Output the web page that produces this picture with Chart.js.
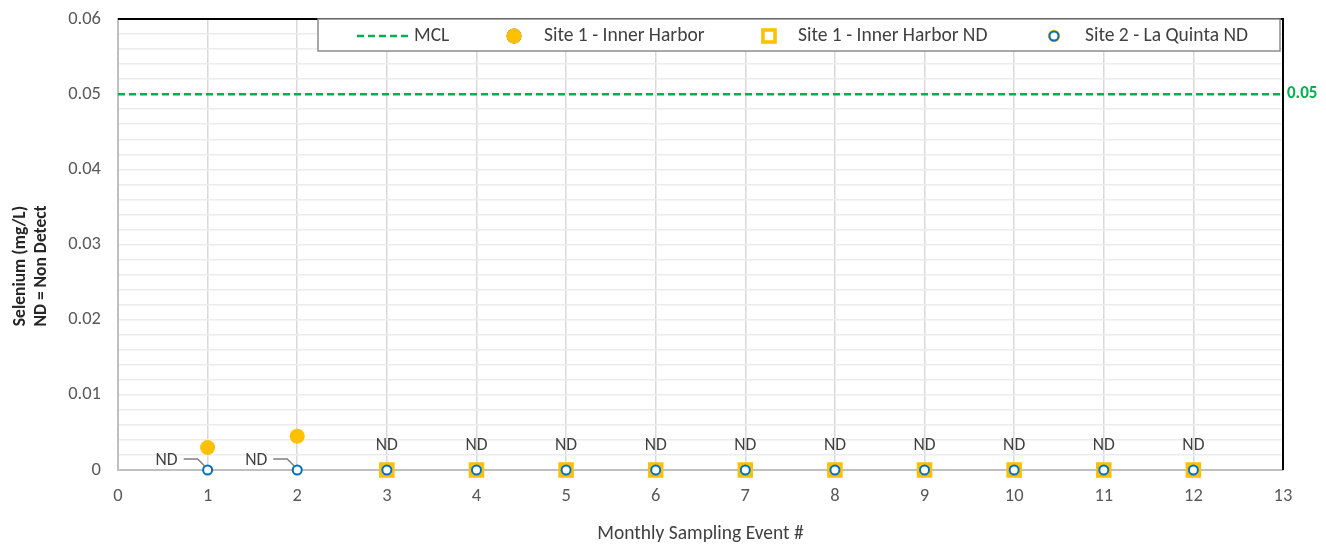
<!DOCTYPE html>
<html>
<head>
<meta charset="utf-8">
<script src="https://cdn.jsdelivr.net/npm/chart.js@4.4.1/dist/chart.umd.min.js"></script>
<style>
  html, body { margin: 0; padding: 0; background: #fff; }
  #wrap { width: 1326px; height: 544px; }
</style>
</head>
<body>
<div id="wrap"><canvas id="chart" width="1326" height="544"></canvas></div>
<script>
"use strict";

// data
var site1Events = [1, 2];
var site1Values = [0.003, 0.0045];
var site1NdEvents = [3, 4, 5, 6, 7, 8, 9, 10, 11, 12];
var site1NdValues = [0, 0, 0, 0, 0, 0, 0, 0, 0, 0];
var site2NdEvents = [1, 2, 3, 4, 5, 6, 7, 8, 9, 10, 11, 12];
var site2NdValues = [0, 0, 0, 0, 0, 0, 0, 0, 0, 0, 0, 0];
var mclEvents = [0, 13];
var mclValue = 0.05;
var yTitle = ["Selenium (mg/L)", "ND = Non Detect"];

var FONT = "Carlito, Lato, 'Open Sans', sans-serif";
var TEXT = "#404040";

function pts(xs, ys) {
    return xs.map(function (x, i) { return { x: x, y: ys[i] }; });
}

// frame, MCL value, ND labels, y title and the boxed legend
var extras = {
    id: "extras",
    afterDraw: function (chart) {
        var ctx = chart.ctx, a = chart.chartArea;
        var xs = chart.scales.x, ys = chart.scales.y;
        ctx.save();

        // black top and right frame
        ctx.strokeStyle = "#000";
        ctx.lineWidth = 2;
        ctx.beginPath();
        ctx.moveTo(a.left, a.top);
        ctx.lineTo(a.right, a.top);
        ctx.lineTo(a.right, a.bottom);
        ctx.stroke();

        // MCL value label
        ctx.fillStyle = "#00B050";
        ctx.font = "bold 17px " + FONT;
        ctx.textAlign = "left";
        ctx.textBaseline = "middle";
        ctx.fillText(String(mclValue), a.right + 4, ys.getPixelForValue(mclValue));

        // ND labels
        ctx.fillStyle = TEXT;
        ctx.strokeStyle = "#7f7f7f";
        ctx.lineWidth = 1.5;
        ctx.font = "17.5px " + FONT;
        site2NdEvents.forEach(function (ev, i) {
            var px = xs.getPixelForValue(ev), py = ys.getPixelForValue(site2NdValues[i]);
            if (site1NdEvents.indexOf(ev) >= 0) {
                ctx.textAlign = "center";
                ctx.fillText("ND", px, py - 24);
            } else {
                ctx.textAlign = "right";
                ctx.fillText("ND", px - 30, py - 9);
                ctx.beginPath();
                ctx.moveTo(px - 24, py - 11);
                ctx.lineTo(px - 10, py - 11);
                ctx.lineTo(px - 3, py - 4);
                ctx.stroke();
            }
        });

        // y axis title, two lines
        ctx.save();
        ctx.translate(21, 266);
        ctx.rotate(-Math.PI / 2);
        ctx.fillStyle = "#262626";
        ctx.font = "bold 17.5px " + FONT;
        ctx.textAlign = "center";
        yTitle.forEach(function (t, k) { ctx.fillText(t, 0, k * 21); });
        ctx.restore();

        // legend box
        var bx = 318, by = 19, bw = 962, bh = 32, cy = by + bh / 2 + 1;
        ctx.fillStyle = "#fff";
        ctx.fillRect(bx, by, bw, bh);
        ctx.strokeStyle = "#8c8c8c";
        ctx.lineWidth = 1.5;
        ctx.strokeRect(bx, by, bw, bh);

        var symX = [357, 514, 769, 1054];
        var textX = [414, 544, 798, 1085];
        ctx.font = "19.5px " + FONT;
        ctx.textAlign = "left";
        chart.data.datasets.forEach(function (ds, k) {
            if (ds.type === "line") {
                ctx.strokeStyle = ds.borderColor;
                ctx.lineWidth = ds.borderWidth;
                ctx.setLineDash(ds.borderDash);
                ctx.beginPath();
                ctx.moveTo(symX[k], cy);
                ctx.lineTo(symX[k] + 52, cy);
                ctx.stroke();
                ctx.setLineDash([]);
            } else {
                Chart.helpers.drawPoint(ctx, {
                    pointStyle: ds.pointStyle,
                    radius: ds.legendRadius,
                    borderWidth: ds.pointBorderWidth,
                    rotation: 0
                }, symX[k], cy);
                ctx.fillStyle = ds.pointBackgroundColor;
                ctx.strokeStyle = ds.pointBorderColor;
                ctx.lineWidth = ds.pointBorderWidth;
                ctx.fill();
                if (ds.pointBorderWidth) ctx.stroke();
            }
            ctx.fillStyle = TEXT;
            ctx.fillText(ds.label, textX[k], cy);
        });

        ctx.restore();
    }
};

new Chart(document.getElementById("chart"), {
    type: "scatter",
    data: {
        datasets: [{
            type: "line",
            label: "MCL",
            data: pts(mclEvents, [mclValue, mclValue]),
            borderColor: "#00B050",
            borderWidth: 2.5,
            borderDash: [7, 4],
            pointRadius: 0,
            order: 4
        }, {
            label: "Site 1 - Inner Harbor",
            data: pts(site1Events, site1Values),
            pointStyle: "circle",
            pointRadius: 7.5,
            legendRadius: 7.5,
            pointBackgroundColor: "#FFC000",
            pointBorderColor: "#FFC000",
            pointBorderWidth: 0,
            clip: false,
            order: 3
        }, {
            label: "Site 1 - Inner Harbor ND",
            data: pts(site1NdEvents, site1NdValues),
            pointStyle: "rect",
            pointRadius: 8.5,
            legendRadius: 8.5,
            pointBackgroundColor: "#fff",
            pointBorderColor: "#FFC000",
            pointBorderWidth: 3.5,
            clip: false,
            order: 2
        }, {
            label: "Site 2 - La Quinta ND",
            data: pts(site2NdEvents, site2NdValues),
            pointStyle: "circle",
            pointRadius: 4.5,
            legendRadius: 4.5,
            pointBackgroundColor: "#fff",
            pointBorderColor: "#0070C0",
            pointBorderWidth: 2,
            clip: false,
            order: 1
        }]
    },
    options: {
        responsive: false,
        animation: false,
        layout: { padding: { top: 19, right: 43, left: 0, bottom: 0 } },
        plugins: {
            legend: { display: false },
            tooltip: { enabled: false }
        },
        scales: {
            x: {
                type: "linear",
                min: 0,
                max: 13,
                ticks: {
                    stepSize: 1,
                    padding: 15,
                    color: "#595959",
                    font: { family: FONT, size: 18.5 }
                },
                grid: {
                    drawTicks: false,
                    color: "#d9d9d9",
                    lineWidth: 1.5
                },
                border: { color: "#bfbfbf", width: 2 },
                title: {
                    display: true,
                    text: "Monthly Sampling Event #",
                    color: TEXT,
                    font: { family: FONT, size: 19.5, lineHeight: 1 },
                    padding: { top: 0, bottom: 0 }
                },
                afterFit: function (s) {
                    s.height = 74;
                    s.paddingLeft = 0;
                    s.paddingRight = 0;
                }
            },
            y: {
                min: 0,
                max: 0.06,
                ticks: {
                    stepSize: 0.002,
                    padding: 17,
                    color: "#595959",
                    font: { family: FONT, size: 18.5 },
                    autoSkip: false,
                    callback: function (v) {
                        var m = v * 100;
                        if (Math.abs(m - Math.round(m)) > 1e-6) return "";
                        return Math.round(m) === 0 ? "0" : (Math.round(m) / 100).toFixed(2);
                    }
                },
                grid: {
                    drawTicks: false,
                    color: "#ececec",
                    lineWidth: 1.5
                },
                border: { color: "#bfbfbf", width: 2 },
                afterFit: function (s) {
                    s.width = 118;
                    s.paddingTop = 0;
                    s.paddingBottom = 0;
                }
            }
        }
    },
    plugins: [extras]
});
</script>
</body>
</html>
